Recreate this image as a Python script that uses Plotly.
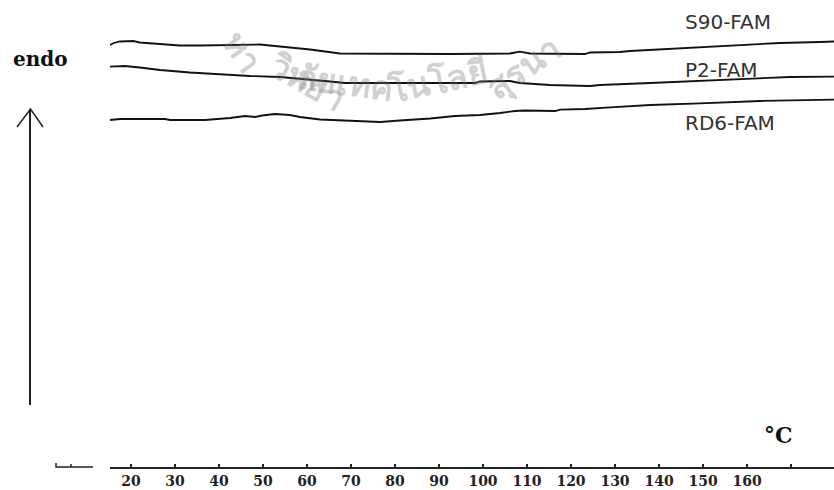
import plotly.graph_objects as go

W, H = 834, 490

# Temperature (°C) and heat-flow signal (arbitrary units)
s90_t = [15.2, 16.1, 17.5, 20.5, 22.0, 25.9, 31.1, 35.7, 42.5, 49.3, 52.7, 56.1, 60.7, 67.5,
         81.1, 92.5, 106.1, 108.4, 110.7, 123.2, 124.3, 131.1, 133.4, 141.4, 149.3, 158.4,
         167.5, 176.6, 179.8]
s90_y = [4.24, 4.26, 4.275, 4.28, 4.265, 4.25, 4.235, 4.235, 4.243, 4.245, 4.23, 4.215, 4.195,
         4.155, 4.15, 4.15, 4.155, 4.173, 4.155, 4.15, 4.165, 4.17, 4.18, 4.20, 4.22, 4.24,
         4.26, 4.27, 4.275]

p2_t = [15.2, 18.6, 22.0, 26.6, 33.4, 39.1, 47.0, 53.9, 58.4, 65.2, 68.6, 92.5, 98.2, 99.3,
        106.1, 108.4, 115.2, 124.3, 126.6, 138.0, 149.3, 158.4, 169.8, 179.8]
p2_y = [4.023, 4.03, 4.015, 3.99, 3.965, 3.95, 3.93, 3.92, 3.905, 3.875, 3.86, 3.857, 3.86,
        3.875, 3.88, 3.86, 3.84, 3.83, 3.84, 3.86, 3.88, 3.90, 3.92, 3.923]

rd6_t = [15.2, 17.5, 27.7, 28.9, 36.8, 42.5, 45.9, 48.2, 49.8, 52.7, 56.1, 58.4, 63.0, 69.8,
         76.6, 81.1, 88.0, 93.6, 99.3, 103.9, 107.3, 109.5, 116.4, 117.5, 123.2, 128.9, 138.0,
         149.3, 163.0, 179.8]
rd6_y = [3.49, 3.50, 3.50, 3.49, 3.49, 3.51, 3.53, 3.52, 3.535, 3.55, 3.54, 3.52, 3.495, 3.48,
         3.47, 3.485, 3.505, 3.53, 3.54, 3.56, 3.58, 3.585, 3.58, 3.593, 3.60, 3.617, 3.64,
         3.657, 3.68, 3.693]

series_names = ["S90-FAM", "P2-FAM", "RD6-FAM"]
label_y = [4.475, 3.995, 3.465]
label_t = 145.5

tick_vals = [20, 30, 40, 50, 60, 70, 80, 90, 100, 110, 120, 130, 140, 150, 160, 170]
tick_text = ["20", "30", "40", "50", "60", "70", "80", "90", "100", "110", "120", "130",
             "140", "150", "160", ""]

y_bottom = 467

fig = go.Figure()
for t, y, n in zip([s90_t, p2_t, rd6_t], [s90_y, p2_y, rd6_y], series_names):
    fig.add_trace(go.Scatter(x=t, y=y, mode="lines", name=n,
                             line=dict(color="#111111", width=1.8), showlegend=False))

for n, ly in zip(series_names, label_y):
    fig.add_annotation(x=label_t, y=ly, xref="x", yref="y", text=n, showarrow=False,
                       xanchor="left", yanchor="middle",
                       font=dict(family="DejaVu Sans", size=20, color="#333333"))

def px(x):
    return x / W

def py(y):
    return 1 - y / H

# watermark (arc text)
wm = [("หา", 210, 18, 55), ("วิทยา", 258, 38, 30), ("ลัยเทค", 345, 50, 8),
      ("โนโลยี", 438, 45, -12), ("สุรนา", 522, 22, -35)]
for txt, x, y, a in wm:
    fig.add_annotation(x=px(x), y=py(y), xref="paper", yref="paper", text=f"<b>{txt}</b>",
                       showarrow=False, textangle=a,
                       font=dict(size=34, color="rgba(120,120,120,0.35)"))

# "endo" and the upward arrow
fig.add_annotation(x=px(40), y=py(59), xref="paper", yref="paper", text="<b>endo</b>",
                   showarrow=False, xanchor="center", yanchor="middle",
                   font=dict(family="DejaVu Serif", size=20, color="#111111"))
fig.add_shape(type="line", xref="paper", yref="paper", x0=px(30), x1=px(30), y0=py(110), y1=py(405),
              line=dict(color="#222222", width=2))
fig.add_shape(type="path", xref="paper", yref="paper",
              path=f"M {px(17)},{py(127)} L {px(30.5)},{py(109)} L {px(43)},{py(127)}",
              line=dict(color="#222222", width=1.5))

# small stray axis segment at left
fig.add_shape(type="path", xref="paper", yref="paper",
              path=f"M {px(56)},{py(463)} L {px(56)},{py(467)} L {px(93)},{py(467)} M {px(71)},{py(464)} L {px(71)},{py(467)}",
              line=dict(color="#222222", width=1.5))

# °C label
fig.add_annotation(x=px(778), y=py(435), xref="paper", yref="paper", text="<b>°C</b>",
                   showarrow=False, xanchor="center", yanchor="middle",
                   font=dict(family="DejaVu Serif", size=22, color="#111111"))

fig.update_layout(
    width=W, height=H, margin=dict(l=0, r=0, t=0, b=0),
    paper_bgcolor="white", plot_bgcolor="white",
    xaxis=dict(domain=[110 / W, 1], range=[15.23, 179.77], showgrid=False, zeroline=False,
               showline=True, linecolor="#222222", linewidth=2,
               tickmode="array", tickvals=tick_vals, ticktext=tick_text,
               ticks="inside", ticklen=3, tickwidth=2, tickcolor="#222222",
               tickfont=dict(family="DejaVu Serif", size=14, color="#222222", weight="bold"),
               automargin=False, fixedrange=True),
    yaxis=dict(domain=[(H - y_bottom) / H, 1], range=[0.02, 4.69], visible=False,
               automargin=False, fixedrange=True),
)

fig.write_html("out.html")
